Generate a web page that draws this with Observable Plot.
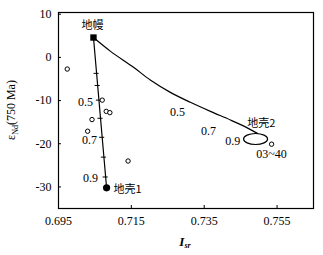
<!DOCTYPE html>
<html>
<head>
<meta charset="utf-8">
<script src="https://cdn.jsdelivr.net/npm/d3@7"></script>
<script src="https://cdn.jsdelivr.net/npm/@observablehq/plot@0.6"></script>
<style>
  body { margin: 0; background: white; }
</style>
</head>
<body>
<div id="chart"></div>
<script>
// Tick values
const xTicks = [0.695, 0.715, 0.735, 0.755];
const yTicks = [-30, -20, -10, 0, 10];

// End members
const mantleX = [0.7046], mantleY = [4.6];
const crust1X = [0.7082], crust1Y = [-30.2];
const crust2X = [0.7491], crust2Y = [-18.9];

// Sample points (open circles)
const sampleX = [0.6974, 0.7070, 0.7081, 0.7091, 0.7042, 0.7030, 0.7141, 0.7535];
const sampleY = [-2.7, -9.9, -12.5, -12.8, -14.4, -17.1, -24.0, -20.1];

// Mixing curve mantle -> crust 2
const curveX = [0.7046, 0.7093, 0.7156, 0.7203, 0.7257, 0.7312, 0.7367, 0.7422, 0.7463, 0.7496];
const curveY = [4.6, 1.4, -2.3, -5.3, -8.1, -10.4, -12.5, -14.5, -16.1, -17.6];

// Mixing line mantle -> crust 1: tick marks (eNd values)
const lineTickY = [-3.7, -6.5, -9.9, -14.1, -18.5, -23.1, -27.7];

// Labels
const cjkText = ["地幔", "地壳1", "地壳2"];
const cjkX = [0.7043, 0.7101, 0.7507];
const cjkY = [7.4, -30.7, -15.2];
const cjkAnchor = ["middle", "start", "middle"];
const numText = ["0.5", "0.7", "0.9", "0.5", "0.7", "0.9", "03~40"];
const numX = [0.7024, 0.7035, 0.7038, 0.7277, 0.7362, 0.7428, 0.7535];
const numY = [-10.4, -19.2, -27.9, -12.7, -17.1, -19.4, -22.4];

const pts = (xs, ys) => xs.map((x, i) => ({x, y: ys[i]}));
const curve = pts(curveX, curveY);
const line1 = [{x: mantleX[0], y: mantleY[0]}, {x: crust1X[0], y: crust1Y[0]}];
const onLine = y => mantleX[0] + (crust1X[0] - mantleX[0]) * (y - mantleY[0]) / (crust1Y[0] - mantleY[0]);
const lineTicks = lineTickY.map(y => ({x: onLine(y), y}));
const cjkLabels = cjkText.map((t, i) => ({t, x: cjkX[i], y: cjkY[i], a: cjkAnchor[i]}));
const numLabels = numText.map((t, i) => ({t, x: numX[i], y: numY[i]}));

const k = 0.5523;
const ellipseSymbol = {
  draw(ctx) {
    const rx = 12, ry = 5.5;
    ctx.moveTo(rx, 0);
    ctx.bezierCurveTo(rx, ry * k, rx * k, ry, 0, ry);
    ctx.bezierCurveTo(-rx * k, ry, -rx, ry * k, -rx, 0);
    ctx.bezierCurveTo(-rx, -ry * k, -rx * k, -ry, 0, -ry);
    ctx.bezierCurveTo(rx * k, -ry, rx, -ry * k, rx, 0);
    ctx.closePath();
  }
};

const serif = "'Liberation Serif', 'DejaVu Serif', serif";
const cjk = "'Noto Sans CJK SC', sans-serif";

const chart = Plot.plot({
  width: 323,
  height: 255,
  marginLeft: 58,
  marginRight: 10,
  marginTop: 12,
  marginBottom: 47,
  x: {domain: [0.695, 0.765]},
  y: {domain: [-35, 10.4]},
  style: {fontFamily: serif, fontSize: "12px", background: "white", color: "black"},
  marks: [
    Plot.frame({stroke: "black", strokeWidth: 1.2}),
    Plot.axisX(xTicks, {tickSize: 3, dy: -3, text: null, label: null}),
    Plot.axisX(xTicks, {tickSize: 0, tickPadding: 8, tickFormat: d3.format(".3f"), label: null, fontSize: 12}),
    Plot.axisY(yTicks, {tickSize: 3, dx: 3, text: null, label: null}),
    Plot.axisY(yTicks, {tickSize: 0, tickPadding: 7, tickFormat: d => String(d), label: null, fontSize: 12}),
    Plot.line(curve, {x: "x", y: "y", curve: "catmull-rom", stroke: "black", strokeWidth: 1.2}),
    Plot.line(line1, {x: "x", y: "y", stroke: "black", strokeWidth: 1.2}),
    Plot.ruleY(lineTicks, {y: "y", x1: d => d.x - 0.0007, x2: d => d.x + 0.0007, stroke: "black", strokeWidth: 1}),
    Plot.dot(pts(crust2X, crust2Y), {x: "x", y: "y", symbol: ellipseSymbol, r: 1, stroke: "black", strokeWidth: 1.2, fill: "none"}),
    Plot.dot(pts(sampleX, sampleY), {x: "x", y: "y", r: 2.2, stroke: "black", strokeWidth: 1, fill: "white"}),
    Plot.dot(pts(mantleX, mantleY), {x: "x", y: "y", symbol: "square", r: 3.6, fill: "black", stroke: "none"}),
    Plot.dot(pts(crust1X, crust1Y), {x: "x", y: "y", r: 3.6, fill: "black", stroke: "none"}),
    Plot.text(numLabels, {x: "x", y: "y", text: "t", textAnchor: "middle", fontSize: 12, fill: "black"}),
    Plot.text(cjkLabels.filter(d => d.a === "middle"), {x: "x", y: "y", text: "t", textAnchor: "middle", fontSize: 11, fontFamily: cjk, fill: "black"}),
    Plot.text(cjkLabels.filter(d => d.a === "start"), {x: "x", y: "y", text: "t", textAnchor: "start", fontSize: 11, fontFamily: cjk, fill: "black"})
  ]
});

document.getElementById("chart").appendChild(chart);
const svg = d3.select(chart);

// Y-axis label with subscript
const yl = svg.append("text")
  .attr("transform", "translate(15,110) rotate(-90)")
  .attr("text-anchor", "middle")
  .attr("font-family", serif)
  .attr("font-size", 12)
  .attr("fill", "black");
yl.append("tspan").text("ε");
yl.append("tspan").attr("font-size", 8).attr("dy", 3).text("Nd");
yl.append("tspan").attr("dy", -3).text("(750 Ma)");

// X-axis label I_Sr
const xl = svg.append("text")
  .attr("x", 185)
  .attr("y", 246)
  .attr("text-anchor", "middle")
  .attr("font-family", serif)
  .attr("font-size", 13)
  .attr("font-weight", "bold")
  .attr("font-style", "italic")
  .attr("fill", "black");
xl.append("tspan").text("I");
xl.append("tspan").attr("font-size", 8).attr("dy", 2).text("sr");
</script>
</body>
</html>
